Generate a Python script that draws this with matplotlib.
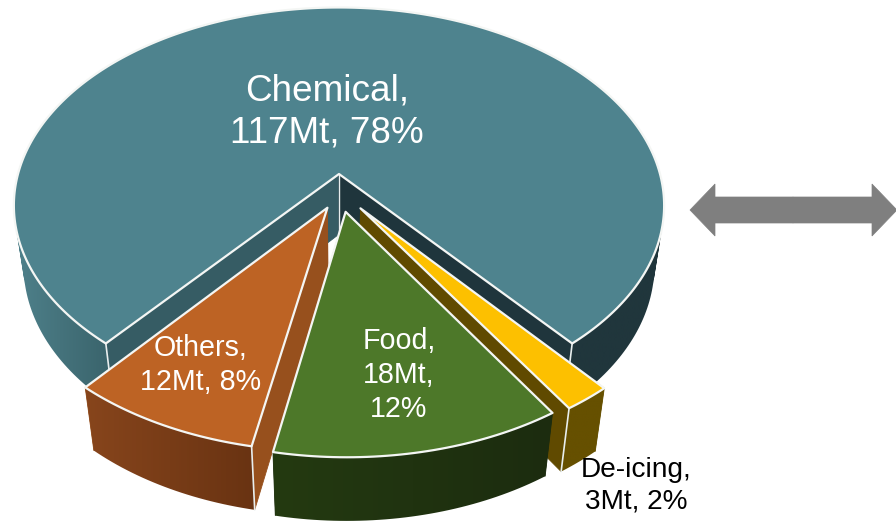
"""3D exploded pie of end uses, drawn by projecting each slice onto the page -> out.png"""

import numpy as np
import matplotlib
matplotlib.use("Agg")
import matplotlib.pyplot as plt
from matplotlib.patches import Polygon, PathPatch
from matplotlib.path import Path
from matplotlib.colors import to_rgb

plt.rcParams["font.family"] = ["Liberation Sans", "DejaVu Sans"]

# data, in drawing order round the pie
names = ["Chemical", "De-icing", "Food", "Others"]
mt = [117, 3, 18, 12]
pct = [78, 2, 12, 8]

# look of each slice
top_col = ["#4e838e", "#fdc000", "#4d7829", "#bd6324"]
wall_left = ["#4f818b", "#665000", "#243a11", "#87451c"]
wall_right = ["#20363c", "#665000", "#1c2c0f", "#693312"]
cut_start = ["#365c64", "#665000", "#1c2c0f", "#97501d"]
cut_end = ["#1f353c", "#604a00", "#1c2c0f", "#97501d"]
corner_lines = [(0, -1), (-1,), (), (0,)]
shift_u = [0, 0.065, 0.02, -0.035]
shift_v = [0, 0.173, 0.19, 0.17]

# projection of the unit disc on the page, in pixels
CX, CY = 339, 174
A, B, K = 321, 193, 0.159
DEPTH, SHRINK = 62, 0.03
START = 39.6  # degrees right of the front, where the first slice after Chemical begins


def project(u, v, low=False):
    w = 1 - K * v + (SHRINK if low else 0)
    return CX + A * u / w, CY + (B * v + (DEPTH if low else 0)) / w


fig = plt.figure(figsize=(8.96, 5.21), dpi=100)
ax = fig.add_axes([0, 0, 1, 1])

# angles: clockwise seen from above means falling t
total = sum(mt)
spans = [m / total * 360 for m in mt]
edges = []
t = START + spans[0]
for s in spans:
    edges.append((t, t - s))
    t -= s


def wall_image(i, x0, x1):
    # horizontal shading of the outer wall, one row of colours
    xs = np.linspace(x0, x1, 256)
    lc, rc = np.array(to_rgb(wall_left[i])), np.array(to_rgb(wall_right[i]))
    if names[i] == "Chemical":
        mid = np.array(to_rgb("#3a646c"))
        f = np.clip((xs - 13) / 95, 0, 1)[:, None]
        row = lc + (mid - lc) * f
        row[xs > CX] = rc
    else:
        f = ((xs - x0) / (x1 - x0))[:, None]
        row = lc + (rc - lc) * f
    return row[None, :, :]


def wall_clip(hi, lo):
    # union of small quads, all wound the same way so overlaps do not cancel
    parts = []
    for j in range(len(hi) - 1):
        q = np.array([hi[j], hi[j + 1], lo[j + 1], lo[j], hi[j]])
        area = np.sum(q[:-1, 0] * q[1:, 1] - q[1:, 0] * q[:-1, 1])
        parts.append(Path(q if area > 0 else q[::-1], closed=True))
    return Path.make_compound_path(*parts)


def draw_slice(i, z):
    t0, t1 = np.radians(edges[i])
    ts = np.linspace(t0, t1, max(12, int(abs(t1 - t0) * 60)))
    u = np.sin(ts) + shift_u[i]
    v = np.cos(ts) + shift_v[i]
    hi = np.array(project(u, v)).T
    lo = np.array(project(u, v, True)).T
    apex_hi = project(shift_u[i], shift_v[i])
    apex_lo = project(shift_u[i], shift_v[i], True)

    # the two cut faces towards the centre, behind the outer wall
    for k, col in ((0, cut_start[i]), (-1, cut_end[i])):
        face = [apex_hi, hi[k], lo[k], apex_lo]
        ax.add_patch(Polygon(face, closed=True, fc=col, ec=col, lw=0.6, zorder=z))

    # outer wall, gradient clipped to the strip between top and bottom rim
    band = np.vstack([hi, lo])
    x0, x1 = band[:, 0].min(), band[:, 0].max()
    y0, y1 = band[:, 1].min(), band[:, 1].max()
    img = ax.imshow(wall_image(i, x0, x1), extent=(x0, x1, y1, y0), aspect="auto",
                    interpolation="bilinear", zorder=z + 0.1)
    img.set_clip_path(wall_clip(hi, lo), transform=ax.transData)

    # white corner lines and the top face
    for k in corner_lines[i]:
        ax.plot([hi[k, 0], lo[k, 0]], [hi[k, 1], lo[k, 1]], color="#e8eeee", lw=1.2,
                zorder=z + 0.2, solid_capstyle="round")
    if names[i] == "Chemical":
        ax.plot([apex_hi[0], apex_lo[0]], [apex_hi[1], apex_lo[1]], color="#e8eeee", lw=1.0,
                zorder=z + 0.15)
    outline = np.vstack([[apex_hi], hi])
    ax.add_patch(Polygon(outline, closed=True, fc=top_col[i], ec="#f4f6f4", lw=1.6,
                         joinstyle="round", zorder=z + 0.3))


for i, z in zip(range(4), [1, 2, 4, 3]):
    draw_slice(i, z)

# labels
ax.text(327, 112, f"{names[0]},\n{mt[0]}Mt, {pct[0]}%", color="white", fontsize=26.6,
        ha="center", va="center", linespacing=1.28, zorder=6)
ax.text(201, 365, f"{names[3]},\n{mt[3]}Mt, {pct[3]}%", color="white", fontsize=20.6,
        ha="center", va="center", linespacing=1.25, zorder=6)
ax.text(399, 375, f"{names[2]},\n{mt[2]}Mt,\n{pct[2]}%", color="white", fontsize=20.6,
        ha="center", va="center", linespacing=1.28, zorder=6)
ax.text(636, 486, f"{names[1]},\n{mt[1]}Mt, {pct[1]}%", color="black", fontsize=20.2,
        ha="center", va="center", linespacing=1.28, zorder=6)

# double arrow leaving the picture on the right
for start, dx in ((793, -103), (793, 104)):
    ax.arrow(start, 210, dx, 0, width=26, head_width=52, head_length=25,
             length_includes_head=True, fc="#7f7f7f", ec="#7f7f7f", lw=0.5, zorder=1)

ax.set_xlim(0, 896)
ax.set_ylim(521, 0)
ax.axis("off")

fig.savefig("out.png", dpi=100, facecolor="white")
